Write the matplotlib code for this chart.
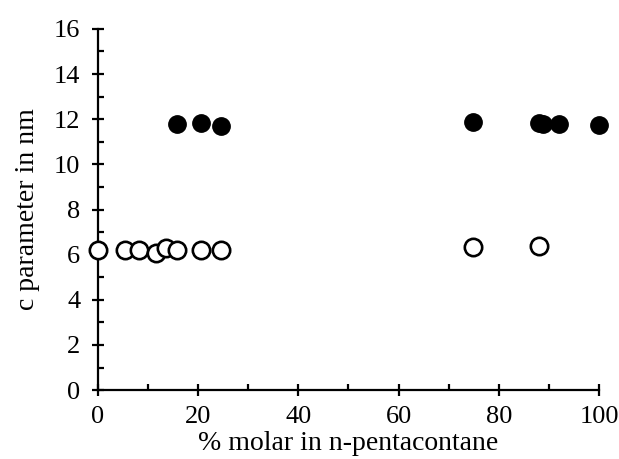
import matplotlib
matplotlib.use("Agg")
import matplotlib.pyplot as plt
from matplotlib.ticker import MultipleLocator

open_x = [0, 5.4, 8.2, 11.6, 13.6, 15.8, 20.6, 24.6, 74.9, 88.0]
open_y = [6.2, 6.2, 6.2, 6.07, 6.28, 6.2, 6.2, 6.22, 6.35, 6.4]
filled_x = [15.7, 20.6, 24.5, 74.8, 87.9, 88.8, 91.9, 100]
filled_y = [11.79, 11.82, 11.72, 11.87, 11.82, 11.8, 11.78, 11.75]

plt.rcParams['font.family'] = ['Liberation Serif', 'DejaVu Serif']
fig = plt.figure(figsize=(6.19, 4.59), dpi=100)
ax = fig.add_axes([0.158, 0.150, 0.810, 0.787])

ax.plot(open_x, open_y, 'o', ms=12.5, mfc='white', mec='black', mew=1.9, ls='none', clip_on=False, zorder=3)
ax.plot(filled_x, filled_y, 'o', ms=12.5, mfc='black', mec='black', mew=1.0, ls='none', clip_on=False, zorder=3)

ax.set_xlim(0, 100)
ax.set_ylim(0, 16)
ax.spines['top'].set_visible(False)
ax.spines['right'].set_visible(False)
for s in ('left', 'bottom'):
    ax.spines[s].set_linewidth(1.6)
ax.xaxis.set_major_locator(MultipleLocator(20))
ax.xaxis.set_minor_locator(MultipleLocator(10))
ax.yaxis.set_major_locator(MultipleLocator(2))
ax.yaxis.set_minor_locator(MultipleLocator(1))
ax.tick_params(which='major', direction='inout', length=9, width=1.6, labelsize=19, pad=7)
ax.tick_params(which='minor', direction='in', length=4, width=1.6)
ax.tick_params(axis='y', which='major', pad=8)

ax.set_xlabel('% molar in n-pentacontane', fontsize=20, labelpad=2)
ax.set_ylabel('c parameter in nm', fontsize=20, labelpad=10)

fig.savefig('out.png', dpi=100)
